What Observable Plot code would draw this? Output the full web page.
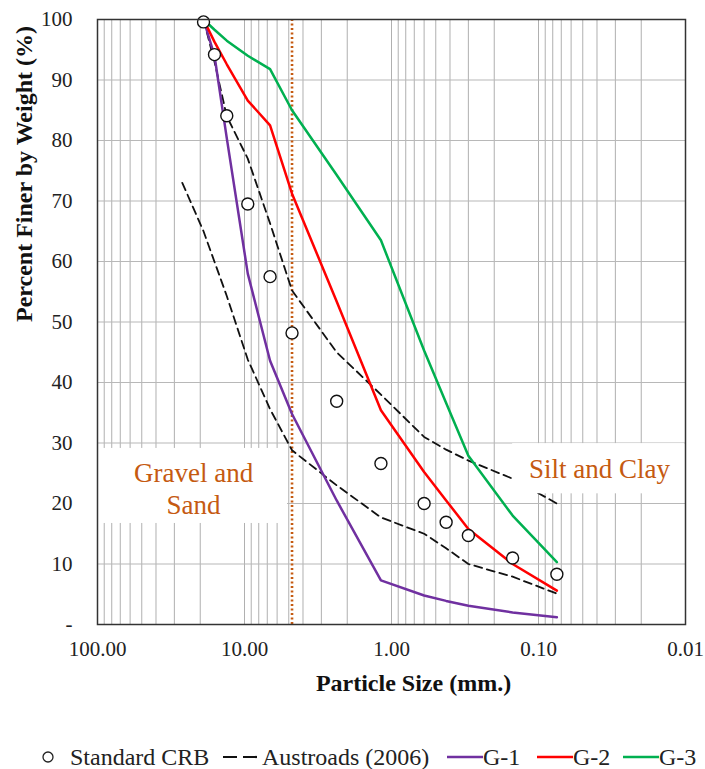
<!DOCTYPE html>
<html>
<head>
<meta charset="utf-8">
<script src="https://cdn.jsdelivr.net/npm/d3@7"></script>
<script src="https://cdn.jsdelivr.net/npm/@observablehq/plot@0.6"></script>
<style>
  html, body { margin: 0; padding: 0; background: white; }
  body { width: 705px; font-family: "Liberation Serif", "DejaVu Serif", serif; }
  #chart svg, #chart svg text { font-family: "Liberation Serif", "DejaVu Serif", serif !important; }
  #legend { position: relative; width: 705px; height: 39px; font-size: 24px; color: #222; }
  #legend .it { position: absolute; top: 14px; height: 26px; line-height: 26px; white-space: nowrap; }
  #legend svg { position: absolute; top: 14px; }
</style>
</head>
<body>
<div id="chart"></div>
<div id="legend"></div>
<script>
// Sieve sizes (mm)
const sieves = [19, 16, 13.2, 9.5, 6.7, 4.75, 2.36, 1.18, 0.6, 0.425, 0.3, 0.15, 0.075];
// Standard CRB (percent finer)
const crb = [99.6, 94.2, 84.1, 69.5, 57.5, 48.2, 36.9, 26.6, 20.0, 16.9, 14.7, 11.0, 8.3];
// G-1, G-2, G-3 gradations
const g1 = [100, 94, 80.4, 58, 43.6, 34.8, 20.5, 7.3, 4.8, 3.9, 3.1, 2.0, 1.2];
const g2 = [100, 96.3, 92.6, 86.6, 82.5, 71.2, 53.4, 35.4, 25.2, 20.5, 15.8, 10.0, 5.6];
const g3 = [100, 98.3, 96.5, 94, 91.8, 85, 74.3, 63.5, 45.3, 36.6, 27.9, 18.0, 10.3];
// Austroads (2006) envelope
const upperSizes = [19, 16, 13.2, 9.5, 6.7, 4.75, 2.36, 1.18, 0.6, 0.425, 0.3, 0.15, 0.075];
const upperVals  = [100, 93, 84, 77, 66.3, 55.2, 45, 38, 31, 28.9, 27.1, 24.1, 20];
const lowerSizes = [26.5, 19, 13.2, 9.5, 6.7, 4.75, 2.36, 1.18, 0.6, 0.425, 0.3, 0.15, 0.075];
const lowerVals  = [73, 65, 54.3, 43.8, 35.6, 28.8, 23, 17.7, 15, 12.6, 10, 7.9, 5.1];
// Axis ticks
const xTicks = [100, 10, 1, 0.1, 0.01];
const yTicks = [0, 10, 20, 30, 40, 50, 60, 70, 80, 90, 100];
const boundarySize = 4.75;

const toRows = (xs, ys) => xs.map((x, i) => ({x, y: ys[i]}));
const crbRows = toRows(sieves, crb);
const g1Rows = toRows(sieves, g1);
const g2Rows = toRows(sieves, g2);
const g3Rows = toRows(sieves, g3);
const upRows = toRows(upperSizes, upperVals);
const loRows = toRows(lowerSizes, lowerVals);
const minorGrid = d3.scaleLog().domain([0.01, 100]).ticks();

const serif = "'Liberation Serif', 'DejaVu Serif', serif";
const orange = "#C55A11";
const chart = Plot.plot({
  width: 705,
  height: 730,
  marginTop: 19,
  marginBottom: 106,
  marginLeft: 97,
  marginRight: 20,
  style: {fontFamily: serif, fontSize: "21px", color: "#222", background: "white", overflow: "visible"},
  x: {type: "log", domain: [100, 0.01], ticks: xTicks, tickFormat: d => d.toFixed(2), tickSize: 0, tickPadding: 17, label: null},
  y: {domain: [0, 100], ticks: yTicks, tickFormat: d => d === 0 ? "-" : String(d), tickSize: 0, tickPadding: 25, label: null},
  marks: [
    Plot.ruleX(minorGrid, {stroke: "#b0b0b0", strokeWidth: 1}),
    Plot.ruleY(yTicks.slice(1, -1), {stroke: "#b8b8b8", strokeWidth: 1.2}),
    Plot.ruleX([boundarySize], {y1: 0, y2: 100, stroke: orange, strokeWidth: 2.6, strokeDasharray: "2,2.5"}),
    Plot.line(upRows, {x: "x", y: "y", stroke: "#111", strokeWidth: 1.8, strokeDasharray: "8,5"}),
    Plot.line(loRows, {x: "x", y: "y", stroke: "#111", strokeWidth: 1.8, strokeDasharray: "8,5"}),
    Plot.line(g1Rows, {x: "x", y: "y", stroke: "#7030A0", strokeWidth: 2.5}),
    Plot.line(g2Rows, {x: "x", y: "y", stroke: "#FF0000", strokeWidth: 2.5}),
    Plot.line(g3Rows, {x: "x", y: "y", stroke: "#00B050", strokeWidth: 2.5}),
    Plot.rect([0], {x1: 100, x2: 5.1, y1: 16.7, y2: 29.1, fill: "white"}),
    Plot.rect([0], {x1: 0.15, x2: 0.0101, y1: 21.6, y2: 29.9, fill: "white"}),
    Plot.text(["Gravel and\nSand"], {x: 22.2, y: 22.6, fill: orange, fontSize: 27, lineHeight: 1.17, fontFamily: serif}),
    Plot.text(["Silt and Clay"], {x: 0.0385, y: 25.6, fill: orange, fontSize: 27, fontFamily: serif}),
    Plot.dot(crbRows, {x: "x", y: "y", r: 6, fill: "white", stroke: "#111", strokeWidth: 1.4}),
    Plot.frame({stroke: "#333", strokeWidth: 1.5}),
    Plot.text(["Percent Finer by Weight (%)"], {frameAnchor: "left", dx: -73, rotate: -90, fontWeight: "bold", fontSize: 24, fill: "#111", fontFamily: serif}),
    Plot.text(["Particle Size (mm.)"], {frameAnchor: "bottom", dy: 59, dx: 22, lineAnchor: "middle", fontWeight: "bold", fontSize: 24, fill: "#111", fontFamily: serif})
  ]
});
document.getElementById("chart").appendChild(chart);

// Legend
const legendItems = [
  {type: "dot", label: "Standard CRB", sx: 42, tx: 70},
  {type: "dash", label: "Austroads (2006)", sx: 223, tx: 262},
  {type: "line", color: "#7030A0", label: "G-1", sx: 447, tx: 483},
  {type: "line", color: "#FF0000", label: "G-2", sx: 537, tx: 573},
  {type: "line", color: "#00B050", label: "G-3", sx: 623, tx: 659}
];
const leg = document.getElementById("legend");
for (const it of legendItems) {
  const ns = "http://www.w3.org/2000/svg";
  const s = document.createElementNS(ns, "svg");
  s.setAttribute("width", 40); s.setAttribute("height", 26);
  s.style.left = it.sx + "px";
  if (it.type === "dot") {
    const c = document.createElementNS(ns, "circle");
    c.setAttribute("cx", 6); c.setAttribute("cy", 13); c.setAttribute("r", 5);
    c.setAttribute("fill", "white"); c.setAttribute("stroke", "#222"); c.setAttribute("stroke-width", 1.3);
    s.appendChild(c);
  } else {
    const l = document.createElementNS(ns, "line");
    l.setAttribute("x1", 0); l.setAttribute("x2", 36); l.setAttribute("y1", 13); l.setAttribute("y2", 13);
    l.setAttribute("stroke", it.type === "dash" ? "#111" : it.color);
    l.setAttribute("stroke-width", it.type === "dash" ? 2.2 : 2.5);
    if (it.type === "dash") l.setAttribute("stroke-dasharray", "14,6");
    s.appendChild(l);
  }
  leg.appendChild(s);
  const t = document.createElement("div");
  t.className = "it";
  t.style.left = it.tx + "px";
  t.textContent = it.label;
  leg.appendChild(t);
}
</script>
</body>
</html>
